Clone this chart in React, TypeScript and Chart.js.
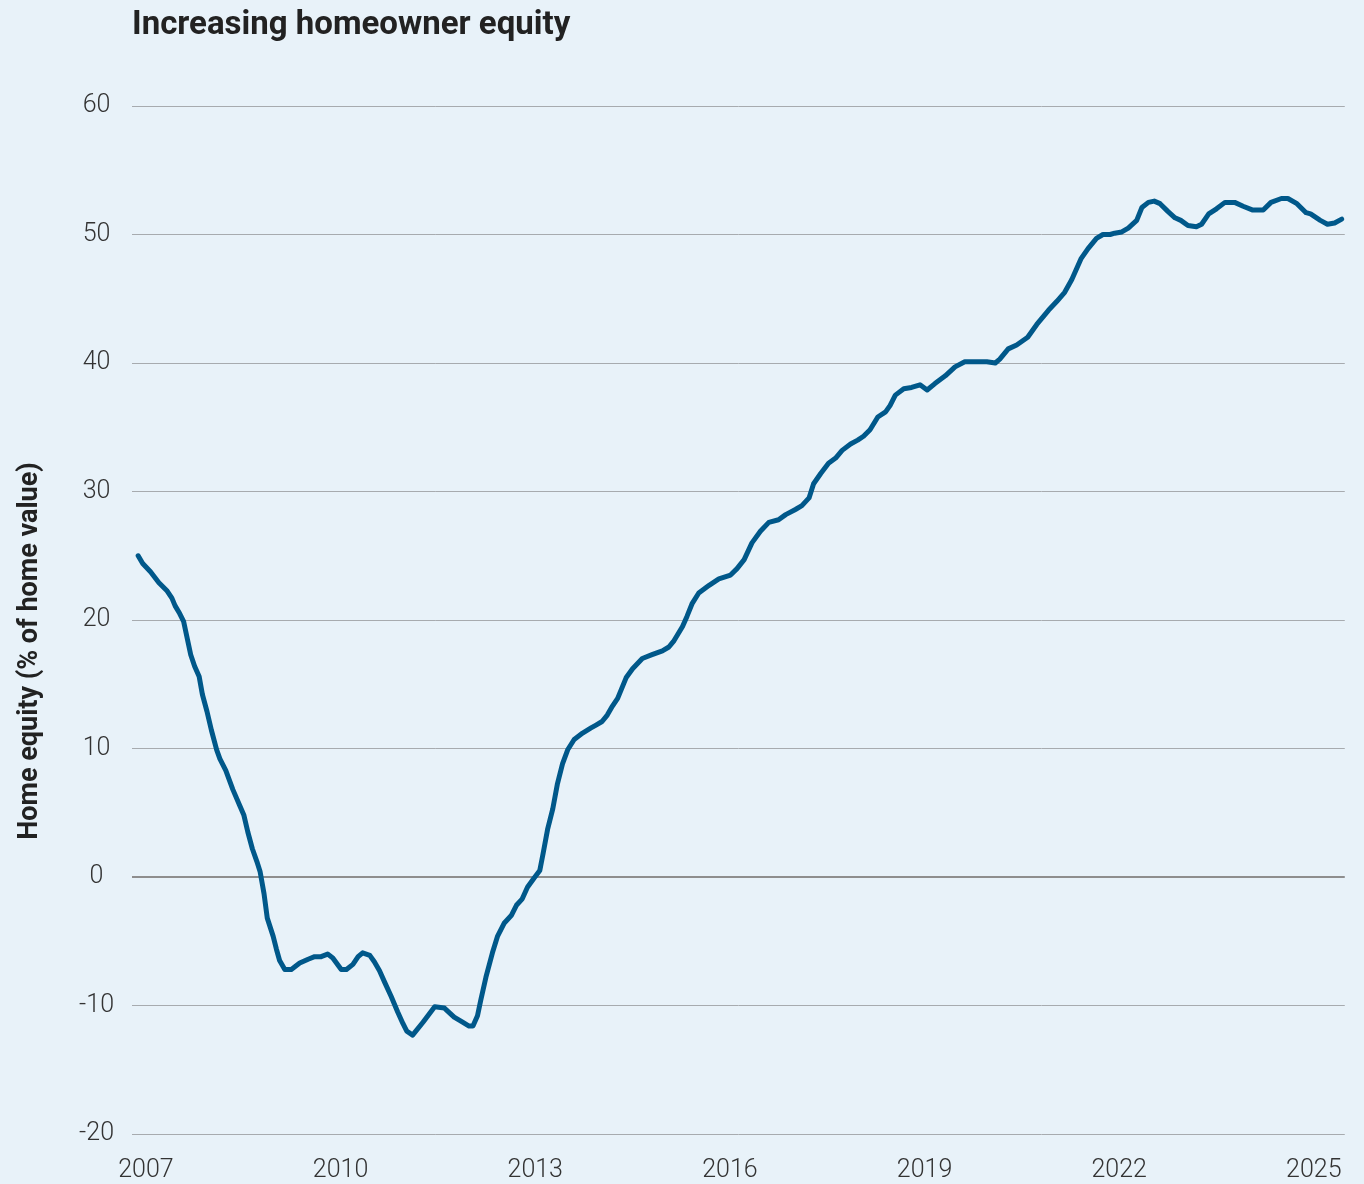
import React, { useEffect, useRef } from 'react';
import { Chart, registerables } from 'chart.js';

Chart.register(...registerables);

const chartTitle = 'Increasing homeowner equity';
const yAxisTitle = 'Home equity (% of home value)';

// Time in decimal years
const years = [
  2006.88, 2006.95, 2007.07, 2007.2, 2007.32, 2007.4, 2007.45, 2007.52, 2007.58, 2007.69,
  2007.75, 2007.82, 2007.87, 2007.94, 2008.01, 2008.09, 2008.14, 2008.23, 2008.34, 2008.45,
  2008.51, 2008.57, 2008.64, 2008.71, 2008.76, 2008.82, 2008.87, 2008.96, 2009.01, 2009.06,
  2009.14, 2009.24, 2009.37, 2009.5, 2009.6, 2009.7, 2009.8, 2009.88, 2010.01, 2010.09,
  2010.19, 2010.27, 2010.34, 2010.45, 2010.52, 2010.6, 2010.68, 2010.78, 2010.88, 2010.96,
  2011.02, 2011.11, 2011.27, 2011.45, 2011.6, 2011.75, 2011.88, 2011.98, 2012.04, 2012.11,
  2012.16, 2012.24, 2012.34, 2012.42, 2012.52, 2012.63, 2012.71, 2012.8, 2012.88, 2012.98,
  2013.07, 2013.12, 2013.19, 2013.27, 2013.34, 2013.42, 2013.5, 2013.6, 2013.73, 2013.86,
  2013.93, 2014.03, 2014.11, 2014.19, 2014.27, 2014.4, 2014.5, 2014.65, 2014.8, 2014.96,
  2015.06, 2015.14, 2015.27, 2015.34, 2015.42, 2015.52, 2015.68, 2015.83, 2016.01, 2016.11,
  2016.22, 2016.34, 2016.47, 2016.6, 2016.75, 2016.86, 2017.01, 2017.11, 2017.22, 2017.29,
  2017.4, 2017.52, 2017.63, 2017.73, 2017.86, 2017.97, 2018.06, 2018.16, 2018.28, 2018.4,
  2018.47, 2018.55, 2018.68, 2018.8, 2018.93, 2019.04, 2019.16, 2019.32, 2019.47, 2019.62,
  2019.78, 2019.96, 2020.09, 2020.16, 2020.29, 2020.42, 2020.59, 2020.73, 2020.91, 2021.04,
  2021.16, 2021.27, 2021.41, 2021.52, 2021.65, 2021.75, 2021.86, 2021.93, 2022.04, 2022.14,
  2022.27, 2022.35, 2022.45, 2022.54, 2022.63, 2022.75, 2022.86, 2022.95, 2023.06, 2023.19,
  2023.27, 2023.38, 2023.5, 2023.63, 2023.78, 2023.91, 2024.06, 2024.22, 2024.34, 2024.5,
  2024.6, 2024.74, 2024.88, 2024.95, 2025.1, 2025.21, 2025.32, 2025.43,
];

// Home equity, % of home value
const equity = [
  25.0, 24.4, 23.75, 22.9, 22.3, 21.7, 21.1, 20.5, 19.9, 17.3,
  16.4, 15.6, 14.2, 12.9, 11.4, 9.9, 9.2, 8.3, 6.8, 5.5,
  4.8, 3.5, 2.2, 1.2, 0.4, -1.3, -3.2, -4.6, -5.6, -6.5,
  -7.2, -7.2, -6.7, -6.4, -6.2, -6.2, -6.0, -6.3, -7.2, -7.2,
  -6.8, -6.2, -5.9, -6.1, -6.6, -7.3, -8.2, -9.3, -10.5, -11.4,
  -12.0, -12.3, -11.3, -10.1, -10.2, -10.9, -11.3, -11.6, -11.6, -10.8,
  -9.6, -7.8, -5.9, -4.6, -3.6, -3.0, -2.2, -1.7, -0.8, -0.1,
  0.5, 1.8, 3.7, 5.3, 7.2, 8.8, 9.9, 10.7, 11.2, 11.6,
  11.8, 12.1, 12.6, 13.3, 13.9, 15.5, 16.2, 17.0, 17.3, 17.6,
  17.9, 18.4, 19.5, 20.3, 21.3, 22.1, 22.7, 23.2, 23.5, 24.0,
  24.7, 26.0, 26.9, 27.6, 27.8, 28.2, 28.6, 28.9, 29.5, 30.6,
  31.4, 32.2, 32.6, 33.2, 33.7, 34.0, 34.3, 34.8, 35.8, 36.2,
  36.7, 37.5, 38.0, 38.1, 38.3, 37.9, 38.4, 39.0, 39.7, 40.1,
  40.1, 40.1, 40.0, 40.3, 41.1, 41.4, 42.0, 43.0, 44.1, 44.8,
  45.5, 46.5, 48.1, 48.9, 49.7, 50.0, 50.0, 50.1, 50.2, 50.5,
  51.1, 52.1, 52.5, 52.6, 52.4, 51.8, 51.3, 51.1, 50.7, 50.6,
  50.8, 51.6, 52.0, 52.5, 52.5, 52.2, 51.9, 51.9, 52.5, 52.8,
  52.8, 52.4, 51.7, 51.6, 51.1, 50.8, 50.9, 51.2,
];

const xTickYears = [2007, 2010, 2013, 2016, 2019, 2022, 2025];
const yTickValues = [60, 50, 40, 30, 20, 10, 0, -10, -20];

const BG = '#e8f2f9';
const LINE = '#00588a';
const TICK_FONT = "Roboto, 'Noto Sans', sans-serif";

const decorPlugin = {
  id: 'decor',
  beforeDraw(chart: any) {
    const { ctx, width, height } = chart;
    ctx.save();
    ctx.fillStyle = BG;
    ctx.fillRect(0, 0, width, height);
    ctx.restore();
  },
  afterDraw(chart: any) {
    const { ctx, chartArea } = chart;
    ctx.save();
    ctx.fillStyle = '#222222';
    ctx.font = "bold 33px Roboto, 'Noto Sans', sans-serif";
    ctx.textAlign = 'left';
    ctx.textBaseline = 'alphabetic';
    ctx.fillText(chartTitle, chartArea.left, 34);

    ctx.translate(30, 651);
    ctx.rotate(-Math.PI / 2);
    ctx.font = "bold 27px Roboto, 'Noto Sans', sans-serif";
    ctx.textAlign = 'center';
    ctx.textBaseline = 'middle';
    ctx.fillText(yAxisTitle, 0, 0);
    ctx.restore();
  },
};

export default function App() {
  const canvasRef = useRef<HTMLCanvasElement | null>(null);

  useEffect(() => {
    document.body.style.margin = '0';
    document.body.style.background = BG;
    const canvas = canvasRef.current;
    if (!canvas) return;
    const chart = new Chart(canvas, {
      type: 'line',
      data: {
        datasets: [
          {
            data: years.map((x, i) => ({ x, y: equity[i] })),
            borderColor: LINE,
            borderWidth: 5,
            pointRadius: 0,
            tension: 0,
            borderJoinStyle: 'round',
            borderCapStyle: 'round',
            fill: false,
          },
        ],
      },
      options: {
        responsive: false,
        animation: false,
        layout: { padding: { top: 106, right: 17, bottom: 0, left: 0 } },
        plugins: {
          legend: { display: false },
          tooltip: { enabled: false },
          title: { display: false },
        },
        scales: {
          x: {
            type: 'linear',
            min: 2006.785,
            max: 2025.477,
            afterBuildTicks: (s: any) => {
              s.ticks = xTickYears.map((v) => ({ value: v }));
            },
            afterFit: (s: any) => {
              s.height = 50;
            },
            ticks: {
              autoSkip: false,
              maxRotation: 0,
              padding: 22,
              color: '#333333',
              font: { family: TICK_FONT, size: 25, weight: '300' },
              callback: (v: any) => String(v),
            },
            grid: { display: false, drawTicks: false },
            border: { display: false },
          },
          y: {
            type: 'linear',
            min: -20,
            max: 60,
            afterBuildTicks: (s: any) => {
              s.ticks = yTickValues.map((v) => ({ value: v }));
            },
            afterFit: (s: any) => {
              s.width = 132;
            },
            ticks: {
              padding: 18,
              crossAlign: 'center',
              color: '#333333',
              font: { family: TICK_FONT, size: 25, weight: '300' },
              callback: (v: any) => String(v),
            },
            grid: {
              drawTicks: false,
              color: (c: any) => (c.tick && c.tick.value === 0 ? '#8e8e8e' : '#a7abaf'),
              lineWidth: (c: any) => (c.tick && c.tick.value === 0 ? 2 : 1),
            },
            border: { display: false },
          },
        },
      },
      plugins: [decorPlugin],
    });
    return () => chart.destroy();
  }, []);

  return (
    <div style={{ width: 1364, height: 1184, background: BG }}>
      <canvas ref={canvasRef} width={1364} height={1184} style={{ display: 'block' }} />
    </div>
  );
}
